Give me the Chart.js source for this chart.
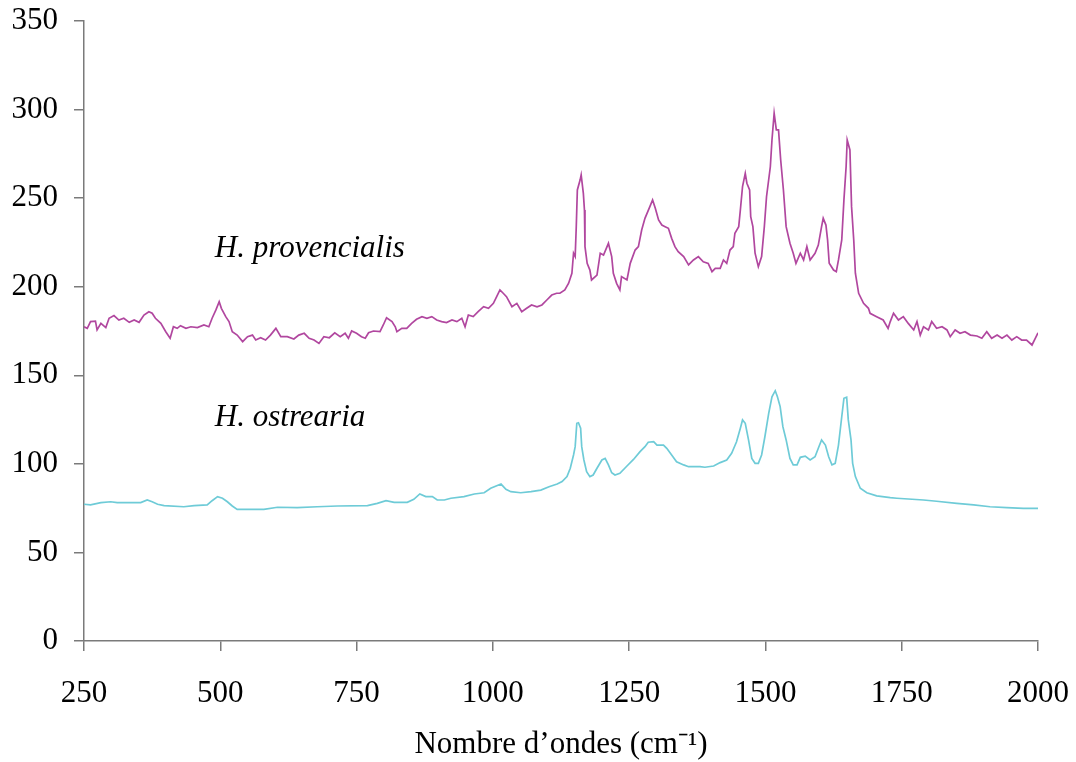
<!DOCTYPE html>
<html>
<head>
<meta charset="utf-8">
<script src="https://cdn.jsdelivr.net/npm/chart.js@4"></script>
<style>
  html, body { margin: 0; padding: 0; background: #fff; }
  canvas { display: block; }
</style>
</head>
<body>
<canvas id="spectre" width="1076" height="762"></canvas>
<script>
// Raman spectra (wavenumber in cm-1, intensity)
const provX = [250,256,262,271,274,281,290,296,305,314,323,333,342,351,360,369,375,381,391,400,408,414,421,427,437,446,458,470,479,485,492,498,502,510,516,522,531,541,550,559,565,574,583,592,602,611,623,635,644,654,663,672,681,690,700,
  710,720,729,735,741,750,759,766,772,781,793,799,805,815,821,824,833,842,851,860,870,879,888,897,906,915,925,934,943,949,955,964,973,983,992,1001,1007,1013,1019,1025,1035,1044,1053,1062,1071,1081,1090,1099,1108,1117,
  1123,1132,1139,1145,1148,1151,1153,1155,1160,1162,1166,1168,1169,1173,1178,1181,1191,1197,1203,1212,1218,1221,1227,1233,1236,1246,1252,1261,1267,1273,1279,1288,1293,1298,1304,1310,1316,1322,1328,1334,1340,1350,1359,1368,1377,1386,1395,1402,1408,1417,1423,1429,1435,1441,1444,1451,1454,1458,1463,1466,1471,1473,1477,1481,1487,1493,1498,1502,1509,1512,1516,1520,1524,1528,1533,1538,1545,1551,1556,1564,1570,1576,1582,1591,1597,1603,1606,1611,1614,1617,1625,1630,1634,1640,1644,1648,1650,1655,1658,1662,1665,1671,1680,1689,1692,1704,1716,1725,
  1729,1735,1744,1753,1762,1772,1778,1784,1790,1799,1805,1814,1824,1833,1839,1848,1857,1866,1876,1888,1897,1906,1915,1925,1934,1943,1952,1961,1970,1979,1989,1995,2000];
const provY = [177.4,176.5,180.3,180.6,175.6,179.3,176.9,182.2,183.7,181.2,182.2,179.9,181.2,179.9,184,185.9,185,182.2,179.3,174.6,170.9,177.4,176.5,178,176.5,177.4,176.9,178.4,177.4,182.2,186.9,191.5,187.8,183.1,180.3,174.6,172.7,169,171.8,172.7,169.9,171.2,169.9,172.7,176.5,171.8,171.8,170.5,172.7,173.7,170.9,169.9,168,171.8,171.2,
  174,171.8,173.7,170.9,175,173.7,171.8,170.9,174,175,174.6,178.4,182.5,180.3,177.4,174.6,176.5,176.5,179.3,181.6,183.1,182.2,183.1,181.2,180.3,179.8,181.2,180.3,182.2,177.4,184,183.1,185.9,188.7,187.8,190.6,194.4,198.2,196.3,194.4,188.7,190.6,185.9,187.8,189.7,188.7,189.7,192.5,195.3,196.3,
  196.3,198.2,202,207.6,218.9,217,233.9,254.6,260.2,263.1,252.7,243.3,222.6,213.2,209.4,203.8,206.6,218.9,217.9,224.5,217,207.6,201.9,198.2,205.7,203.8,213.2,220.7,222.6,232,238.6,245.2,249,244.3,237.7,234.8,233.9,233,227.3,222.6,219.8,217,212.3,215.1,217,214.1,213.2,208.5,210.4,210.4,215.1,213.2,220.7,222.6,230.2,233.9,243.3,256.5,264,258.4,254.6,239.5,233.9,218.9,211.3,217,233.9,250.8,267.7,282.8,297.9,288.5,288.5,271.5,254.6,233.9,224.5,218.9,213.2,218.9,215.1,222.6,215.1,218.9,223.5,233.9,238.6,234.8,226.4,213.2,209.4,208.5,215.1,226.4,249,267.7,282.8,277.2,245.2,226.4,207.6,196.3,190.6,187.8,185,183.1,181.2,176.5,
  180.3,185,181.2,183.1,179.3,175.6,180.3,172.7,177.4,175.6,180.3,176.5,177.4,175.6,171.8,175.6,173.7,174.6,172.7,172.2,170.9,174.6,170.9,172.7,170.9,172.7,169.9,171.8,169.9,169.9,167.1,170.9,174];

const ostrX = [250,262,281,299,311,354,366,375,385,397,433,452,476,485,495,504,513,522,531,580,605,641,678,715,770,788,804,819,843,855,866,877,889,898,911,923,947,966,984,996,1015,1024,1033,1051,1070,1088,1103,1118,1127,1136,1142,1148,1151,1154,1157,1161,1163,1167,1172,1178,1184,1191,1200,1206,1212,1218,1224,1233,1246,1258,1270,1279,1285,1295,1301,1313,1319,1328,1337,1350,1359,1380,1389,1405,1417,1429,1438,1447,1454,1458,1463,1469,1475,1481,1487,1493,1499,1506,1512,1518,1522,1527,1532,1538,1545,1551,1558,1564,1573,1582,1591,1597,1603,1610,1616,1622,1628,1634,1640,1644,1649,1652,1657,1660,1665,1674,1686,1704,1729,1741,1790,1814,1851,1882,1912,1943,1973,2000];
const ostrY = [77.2,76.8,78.1,78.6,78.1,78.1,79.6,78.6,77.2,76.4,75.8,76.4,76.8,79.2,81.5,80.6,78.6,76.2,74.3,74.3,75.5,75.3,75.8,76.2,76.4,77.7,79.2,78.3,78.3,80,83,81.5,81.5,79.6,79.6,80.6,81.5,83,83.7,86.2,88.6,85.6,84.3,83.7,84.3,85.2,87.1,88.6,90,92.8,97.5,105,109.7,122.9,123.2,120.1,109.7,102.2,95.6,92.8,93.7,97.5,102.2,103.1,99.4,95,93.7,94.7,98.8,102.5,106.9,109.7,112.2,112.5,110.6,110.6,108.8,105,101.2,99.4,98.4,98.4,98.1,98.8,100.7,102.2,106,112.5,120.1,124.8,122.9,113.5,103.1,100.3,100.3,105,115.3,128.5,137.9,141.3,137.9,132.3,121,113.5,103.1,99.4,99.4,103.7,104.4,102.2,104,108.8,113.5,110.6,104,99.4,100.3,110.6,126.6,137,137.6,124.8,113.5,100.3,92.8,86.2,83.7,81.9,80.9,80.6,79.6,78.9,77.7,76.8,75.8,75.3,74.9,74.9];

const seriesNames = ['H. provencialis', 'H. ostrearia'];
const xTicks = [250, 500, 750, 1000, 1250, 1500, 1750, 2000];
const yTicks = [0, 50, 100, 150, 200, 250, 300, 350];

const serif = "'Liberation Serif', 'Times New Roman', serif";

function toPoints(xs, ys) {
  return xs.map((x, i) => ({ x: x, y: ys[i] }));
}

// names written next to the curves
const curveLabels = {
  id: 'curveLabels',
  afterDatasetsDraw(chart) {
    const ctx = chart.ctx;
    const sx = chart.scales.x, sy = chart.scales.y;
    ctx.save();
    ctx.font = 'italic 31px ' + serif;
    ctx.fillStyle = '#000';
    ctx.textBaseline = 'alphabetic';
    ctx.fillText(seriesNames[0], sx.getPixelForValue(490), sy.getPixelForValue(216.8));
    ctx.fillText(seriesNames[1], sx.getPixelForValue(490), sy.getPixelForValue(121.5));
    ctx.restore();
  }
};

new Chart(document.getElementById('spectre'), {
  type: 'line',
  data: {
    datasets: [{
      label: seriesNames[0],
      data: toPoints(provX, provY),
      borderColor: '#b1479f',
      borderWidth: 1.7,
      pointRadius: 0,
      tension: 0
    }, {
      label: seriesNames[1],
      data: toPoints(ostrX, ostrY),
      borderColor: '#6ecbd7',
      borderWidth: 1.7,
      pointRadius: 0,
      tension: 0
    }]
  },
  options: {
    responsive: false,
    animation: false,
    devicePixelRatio: 1,
    layout: { padding: { top: 21, right: 38, bottom: 0, left: 0 } },
    plugins: {
      legend: { display: false },
      tooltip: { enabled: false }
    },
    scales: {
      x: {
        type: 'linear',
        min: 250,
        max: 2000,
        afterBuildTicks: (s) => { s.ticks = xTicks.map(v => ({ value: v })); },
        afterFit: (s) => { s.height = 121; s.paddingLeft = 0; s.paddingRight = 0; },
        grid: { drawOnChartArea: false, drawTicks: true, tickLength: 10, color: '#7a7a7a', lineWidth: 1.5 },
        border: { color: '#7a7a7a', width: 1.5 },
        ticks: { color: '#000', font: { family: serif, size: 31 }, padding: 24, maxRotation: 0,
          callback: (v) => String(v) },
        title: {
          display: true,
          text: 'Nombre d’ondes (cm⁻¹)',
          color: '#000',
          font: { family: serif, size: 31, lineHeight: 1.1 },
          padding: { top: 0, bottom: 0 }
        }
      },
      y: {
        min: 0,
        max: 350,
        afterBuildTicks: (s) => { s.ticks = yTicks.map(v => ({ value: v })); },
        afterFit: (s) => { s.width = 84; s.paddingTop = 0; s.paddingBottom = 0; },
        grid: { drawOnChartArea: false, drawTicks: true, tickLength: 10, color: '#7a7a7a', lineWidth: 1.5 },
        border: { color: '#7a7a7a', width: 1.5 },
        ticks: { color: '#000', font: { family: serif, size: 31 }, padding: 16,
          callback: (v) => String(v) }
      }
    }
  },
  plugins: [curveLabels]
});
</script>
</body>
</html>
